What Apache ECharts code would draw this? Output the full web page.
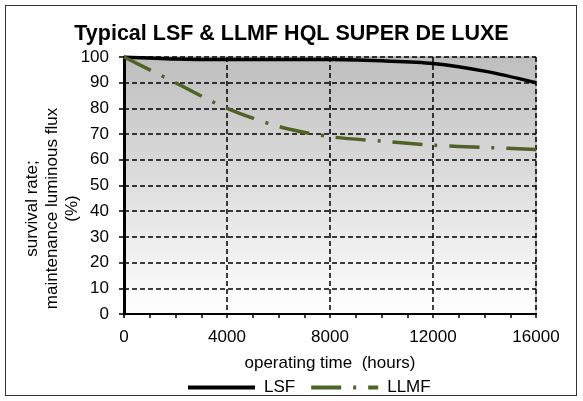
<!DOCTYPE html>
<html>
<head>
<meta charset="utf-8">
<script src="https://cdn.jsdelivr.net/npm/echarts@6/dist/echarts.min.js"></script>
<style>
body { margin: 0; background: #fff; }
#chart { width: 583px; height: 401px; }
#frame { position: absolute; left: 5px; top: 5px; width: 570px; height: 389px; border: 1.5px solid #333; pointer-events: none; }
</style>
</head>
<body>
<div id="chart"></div>
<div id="frame"></div>
<script>
// operating time (hours)
var hours = [0, 2000, 4000, 6000, 8000, 10000, 12000, 14000, 16000];
var lsf = [100, 99.2, 99, 99, 99, 98.5, 97.5, 94.5, 90];
var llmf = [100, 90, 80, 73, 69, 67.3, 65.7, 64.8, 64];
var xTicks = [0, 4000, 8000, 12000, 16000];
var yTicks = [0, 10, 20, 30, 40, 50, 60, 70, 80, 90, 100];

function pairs(vals) {
    return hours.map(function (h, i) { return [h, vals[i]]; });
}

var myChart = echarts.init(document.getElementById('chart'));
var font = 'Liberation Sans';

myChart.setOption({
    animation: false,
    title: {
        text: 'Typical LSF & LLMF HQL SUPER DE LUXE',
        left: 'center',
        top: 18,
        textStyle: { fontFamily: font, fontSize: 21.5, fontWeight: 'bold', color: '#000' }
    },
    legend: {
        bottom: 0,
        left: 181,
        itemWidth: 67,
        itemHeight: 10,
        itemGap: 14,
        textStyle: { fontFamily: font, fontSize: 17, color: '#000', padding: [0, 0, 0, 4] },
        itemStyle: { color: 'transparent', borderWidth: 0 },
        lineStyle: { width: 4 },
        data: ['LSF', 'LLMF']
    },
    grid: {
        left: 124,
        right: 47,
        top: 57,
        bottom: 87,
        show: true,
        borderColor: '#999',
        borderWidth: 1,
        backgroundColor: new echarts.graphic.LinearGradient(0, 0, 0, 1, [
            { offset: 0, color: '#bebebe' },
            { offset: 1, color: '#ffffff' }
        ])
    },
    xAxis: {
        type: 'value',
        min: xTicks[0],
        max: xTicks[xTicks.length - 1],
        interval: 4000,
        name: 'operating time  (hours)',
        nameLocation: 'middle',
        nameGap: 41,
        nameTextStyle: { fontFamily: font, fontSize: 17, color: '#000' },
        axisLine: { lineStyle: { color: '#000', width: 2 } },
        axisTick: { length: 4, lineStyle: { color: '#000', width: 1.5 } },
        minorTick: { show: true, splitNumber: 4, length: 4, lineStyle: { color: '#000', width: 1.5 } },
        axisLabel: {
            fontFamily: font, fontSize: 17, color: '#000', margin: 15,
            formatter: function (v) { return String(v); }
        },
        splitLine: { show: true, lineStyle: { color: '#000', width: 1.5, type: [5, 3] } }
    },
    yAxis: {
        type: 'value',
        min: yTicks[0],
        max: yTicks[yTicks.length - 1],
        interval: 10,
        name: 'survival rate;\nmaintenance luminous flux\n(%)',
        nameLocation: 'middle',
        nameGap: 42,
        nameMoveOverlap: false,
        nameTextStyle: { fontFamily: font, fontSize: 17, color: '#000', lineHeight: 20, padding: [0, 46, 0, 0] },
        axisLine: { show: true, lineStyle: { color: '#000', width: 3 } },
        axisTick: { show: true, length: 5, lineStyle: { color: '#000', width: 1.5 } },
        axisLabel: { fontFamily: font, fontSize: 17, color: '#000', margin: 15 },
        splitLine: { show: true, lineStyle: { color: '#000', width: 1.5, type: [5, 3] } }
    },
    series: [
        {
            name: 'LSF',
            type: 'line',
            smooth: 0.3,
            symbol: 'none',
            z: 3,
            itemStyle: { color: '#000' },
            lineStyle: { color: '#000', width: 3.5 },
            data: pairs(lsf)
        },
        {
            name: 'LLMF',
            type: 'line',
            smooth: 0.3,
            symbol: 'none',
            z: 4,
            itemStyle: { color: '#4f6228' },
            lineStyle: { color: '#4f6228', width: 3.5, type: [30, 12, 3, 12] },
            data: pairs(llmf)
        }
    ]
});
</script>
</body>
</html>
